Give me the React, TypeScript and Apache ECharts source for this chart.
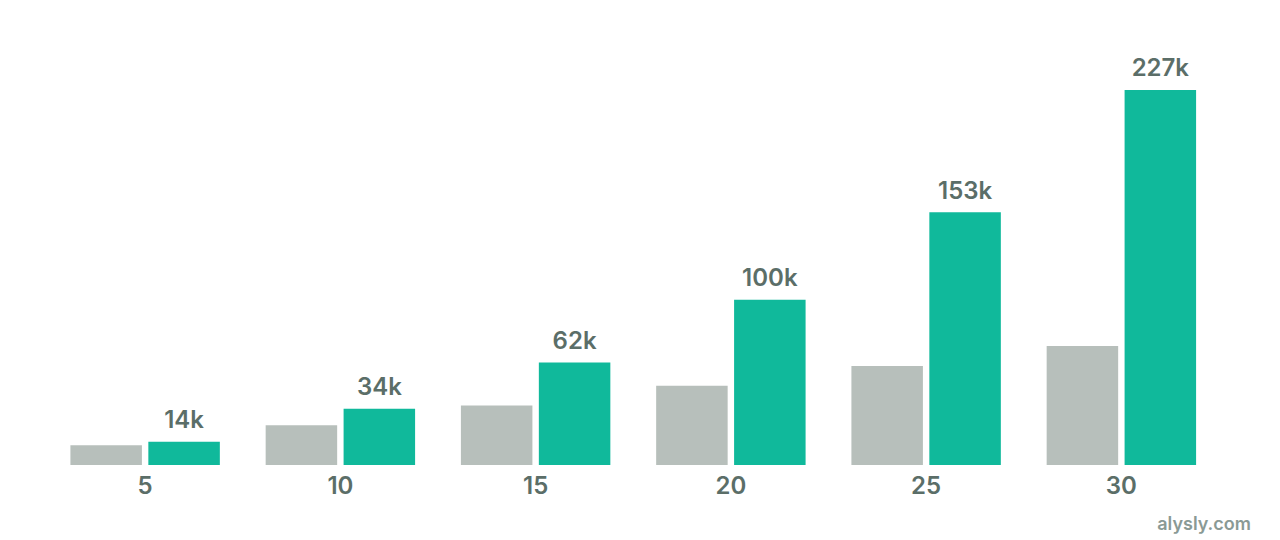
import React, { useRef, useEffect } from 'react'
import * as echarts from 'echarts'

const years = ['5', '10', '15', '20', '25', '30']
const contributions = [12, 24, 36, 48, 60, 72]
const balances = [14, 34, 62, 100, 153, 227]

const textColor = '#5b6e68'

const App: React.FC = () => {
  const chartRef = useRef<HTMLDivElement>(null)

  useEffect(() => {
    document.body.style.margin = '0'
    if (!chartRef.current) return
    const chart = echarts.init(chartRef.current, null, { renderer: 'svg' })

    chart.setOption({
      animation: false,
      textStyle: { fontFamily: 'Inter' },
      grid: { left: 47.5, right: 61, top: 52, bottom: 75 },
      xAxis: {
        type: 'category',
        data: years,
        axisLine: { show: false },
        axisTick: { show: false },
        axisLabel: {
          color: textColor,
          fontSize: 24,
          fontWeight: 600,
          fontFamily: 'Inter',
          margin: 8
        }
      },
      yAxis: {
        type: 'value',
        min: 0,
        max: 250,
        show: false,
        splitLine: { show: false }
      },
      series: [
        {
          name: 'Contributions',
          type: 'bar',
          data: contributions,
          barWidth: 71.5,
          barGap: '9%',
          itemStyle: { color: '#b7bfbb' }
        },
        {
          name: 'Balance',
          type: 'bar',
          data: balances,
          barWidth: 71.5,
          itemStyle: { color: '#10b99b' },
          label: {
            show: true,
            position: 'top',
            distance: 10,
            color: textColor,
            fontSize: 24,
            fontWeight: 600,
            fontFamily: 'Inter',
            formatter: (p: any) => `${p.value}k`
          }
        }
      ],
      graphic: [
        {
          type: 'text',
          right: 29,
          bottom: 8,
          style: {
            text: 'alysly.com',
            fill: '#8a9a95',
            fontSize: 18,
            fontWeight: 600,
            fontFamily: 'Inter'
          }
        }
      ]
    })

    return () => {
      chart.dispose()
    }
  }, [])

  return <div ref={chartRef} style={{ width: 1280, height: 540 }} />
}

export default App
